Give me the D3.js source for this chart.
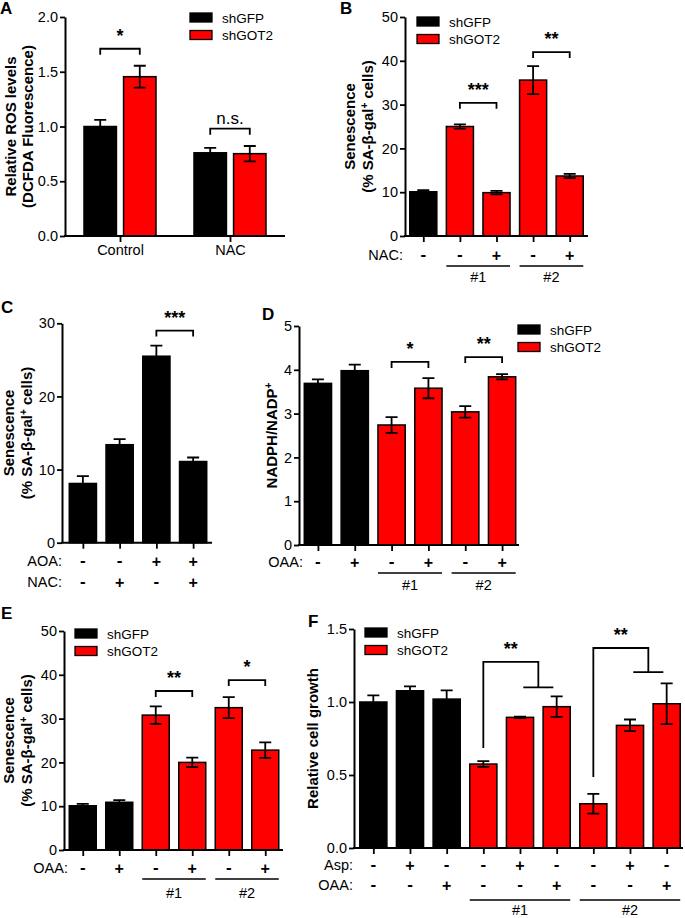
<!DOCTYPE html>
<html><head><meta charset="utf-8">
<script src="https://cdn.jsdelivr.net/npm/d3@7"></script>
<style>body{margin:0;background:#fff}svg{display:block}</style>
</head><body>
<svg id="fig" width="685" height="918"></svg>
<script>
// ---------------- DATA ----------------
const seriesNames = ["shGFP", "shGOT2"];

// Panel A
const aCategories = ["Control", "NAC"];
const aGFP = [1.00, 0.76];
const aGFPErr = [0.06, 0.045];
const aGOT2 = [1.455, 0.752];
const aGOT2Err = [0.10, 0.07];
const aTicks = [0, 0.5, 1.0, 1.5, 2.0];
const aSig = [{cat: "Control", level: 1.71, label: "*"}, {cat: "NAC", level: 0.98, label: "n.s."}];

// Panel B
const bSeries = ["shGFP", "shGOT2", "shGOT2", "shGOT2", "shGOT2"];
const bValues = [10.1, 25.0, 9.9, 35.6, 13.7];
const bErr = [0.35, 0.5, 0.4, 3.2, 0.5];
const bNAC = ["-", "-", "+", "-", "+"];
const bGroups = [{label: "#1", from: 1, to: 2}, {label: "#2", from: 3, to: 4}];
const bTicks = [0, 10, 20, 30, 40, 50];
const bSig = [{from: 1, to: 2, level: 30.4, label: "***"}, {from: 3, to: 4, level: 42.0, label: "**"}];

// Panel C
const cSeries = ["shGFP", "shGFP", "shGFP", "shGFP"];
const cValues = [8.1, 13.4, 25.5, 11.1];
const cErr = [1.0, 0.75, 1.45, 0.55];
const cAOA = ["-", "-", "+", "+"];
const cNAC = ["-", "+", "-", "+"];
const cTicks = [0, 10, 20, 30];
const cSig = [{from: 2, to: 3, level: 29.0, label: "***"}];

// Panel D
const dSeries = ["shGFP", "shGFP", "shGOT2", "shGOT2", "shGOT2", "shGOT2"];
const dValues = [3.69, 3.98, 2.74, 3.58, 3.04, 3.84];
const dErr = [0.09, 0.14, 0.18, 0.23, 0.13, 0.06];
const dOAA = ["-", "+", "-", "+", "-", "+"];
const dGroups = [{label: "#1", from: 2, to: 3}, {label: "#2", from: 4, to: 5}];
const dTicks = [0, 1, 2, 3, 4, 5];
const dSig = [{from: 2, to: 3, level: 4.18, label: "*"}, {from: 4, to: 5, level: 4.29, label: "**"}];

// Panel E
const eSeries = ["shGFP", "shGFP", "shGOT2", "shGOT2", "shGOT2", "shGOT2"];
const eValues = [10.1, 10.9, 30.8, 20.0, 32.5, 22.8];
const eErr = [0.45, 0.5, 2.0, 1.1, 2.4, 1.75];
const eOAA = ["-", "+", "-", "+", "-", "+"];
const eGroups = [{label: "#1", from: 2, to: 3}, {label: "#2", from: 4, to: 5}];
const eTicks = [0, 10, 20, 30, 40, 50];
const eSig = [{from: 2, to: 3, level: 36.3, label: "**"}, {from: 4, to: 5, level: 38.8, label: "*"}];

// Panel F
const fSeries = ["shGFP", "shGFP", "shGFP", "shGOT2", "shGOT2", "shGOT2", "shGOT2", "shGOT2", "shGOT2"];
const fValues = [1.00, 1.077, 1.02, 0.575, 0.895, 0.968, 0.303, 0.84, 0.988];
const fErr = [0.045, 0.03, 0.06, 0.02, 0.005, 0.07, 0.068, 0.04, 0.14];
const fAsp = ["-", "+", "-", "-", "+", "-", "-", "+", "-"];
const fOAA = ["-", "-", "+", "-", "-", "+", "-", "-", "+"];
const fGroups = [{label: "#1", from: 3, to: 5}, {label: "#2", from: 6, to: 8}];
const fTicks = [0, 0.5, 1.0, 1.5];
const fSig = [
  {from: 3, toA: 4, toB: 5, base: 0.685, top: 1.275, drop: 1.10, label: "**"},
  {from: 6, toA: 7, toB: 8, base: 0.486, top: 1.37, drop: 1.205, label: "**"}
];

// ---------------- DRAWING ----------------
const FONT = '"Liberation Sans", Arial, Helvetica, sans-serif';
const RED = "#ff0000";
const colorOf = s => s === "shGFP" ? "#000000" : RED;
const svg = d3.select("#fig").attr("font-family", FONT);

function yAxis(g, y, ticks, fmt, axisX) {
  const ax = g.append("g").attr("transform", `translate(${axisX},0)`)
    .call(d3.axisLeft(y).tickValues(ticks).tickFormat(fmt).tickSize(5).tickPadding(2).tickSizeOuter(0));
  ax.select(".domain").attr("stroke", "#000").attr("stroke-width", 2);
  ax.selectAll(".tick line").attr("stroke", "#000").attr("stroke-width", 1.8);
  ax.selectAll(".tick text").attr("font-size", 14.5).attr("font-family", FONT).attr("fill", "#000");
}

function xAxis(g, x, y0, axisX, axisEnd, showLabels) {
  g.append("line").attr("x1", axisX - 1).attr("x2", axisEnd).attr("y1", y0).attr("y2", y0)
    .attr("stroke", "#000").attr("stroke-width", 2);
  const ax = g.append("g").attr("transform", `translate(0,${y0})`)
    .call(d3.axisBottom(x).tickSize(6).tickPadding(3).tickFormat(showLabels ? (d => d) : ""));
  ax.select(".domain").remove();
  ax.selectAll(".tick line").attr("stroke", "#000").attr("stroke-width", 1.8);
  ax.selectAll(".tick text").attr("font-size", 14.5).attr("font-family", FONT).attr("fill", "#000");
}

function yTitle(g, lines, xs, cy) {
  lines.forEach((segs, i) => {
    const t = g.append("text").attr("transform", `translate(${xs[i]},${cy}) rotate(-90)`)
      .attr("text-anchor", "middle").attr("font-weight", "bold").attr("font-size", 15).attr("fill", "#000");
    let prevSup = false;
    segs.forEach(s => {
      const sp = t.append("tspan").text(s.t);
      if (s.sup) { sp.attr("dy", -5.5).attr("font-size", 10); prevSup = true; }
      else if (prevSup) { sp.attr("dy", 5.5).attr("font-size", 15); prevSup = false; }
    });
  });
}

function letter(txt, x, y) {
  svg.append("text").attr("x", x).attr("y", y).attr("font-weight", "bold").attr("font-size", 17).text(txt);
}

function legend(g, x, y) {
  seriesNames.forEach((s, i) => {
    g.append("rect").attr("x", x).attr("y", y + i * 17.5).attr("width", 22).attr("height", 9)
      .attr("fill", colorOf(s)).attr("stroke", "#000").attr("stroke-width", 1.3);
    g.append("text").attr("x", x + 32).attr("y", y + i * 17.5 + 9.5).attr("font-size", 13.5).text(s);
  });
}

function bracket(g, x1, x2, yPx, label) {
  g.append("path").attr("d", `M${x1},${yPx + 6}V${yPx}H${x2}V${yPx + 6}`)
    .attr("fill", "none").attr("stroke", "#000").attr("stroke-width", 1.8);
  sigLabel(g, (x1 + x2) / 2, yPx, label);
}
function sigLabel(g, x, yPx, label) {
  const isStar = label.indexOf("*") >= 0;
  g.append("text").attr("x", x).attr("y", isStar ? yPx - 7 : yPx - 4.5)
    .attr("text-anchor", "middle").attr("font-size", isStar ? 18 : 17)
    .attr("font-weight", isStar ? "bold" : "normal").text(label);
}

function errorBars(g, xs, vals, errs, y) {
  vals.forEach((v, i) => {
    const cx = xs[i];
    g.append("path").attr("d",
      `M${cx},${y(v - errs[i])}V${y(v + errs[i])}M${cx - 6},${y(v + errs[i])}H${cx + 6}M${cx - 6},${y(v - errs[i])}H${cx + 6}`)
      .attr("fill", "none").attr("stroke", "#000").attr("stroke-width", 1.8);
  });
}

function barPanel(cfg) {
  const g = svg.append("g");
  const y = d3.scaleLinear().domain([0, cfg.yMax]).range([cfg.yBot, cfg.yTop]);
  const x = d3.scalePoint().domain(d3.range(cfg.values.length)).range(cfg.xRange).padding(0.5);
  const bw = x.step() * 0.74;
  g.selectAll("rect.bar").data(cfg.values).join("rect").attr("class", "bar")
    .attr("x", (d, i) => x(i) - bw / 2).attr("y", d => y(d))
    .attr("width", bw).attr("height", d => y(0) - y(d))
    .attr("fill", (d, i) => colorOf(cfg.series[i])).attr("stroke", "#000").attr("stroke-width", 1.5);
  errorBars(g, cfg.values.map((d, i) => x(i)), cfg.values, cfg.errs, y);
  yAxis(g, y, cfg.ticks, cfg.fmt, cfg.axisX);
  xAxis(g, x, cfg.yBot, cfg.axisX, cfg.axisEnd, false);
  yTitle(g, cfg.title, cfg.titleX, (cfg.yTop + cfg.yBot) / 2);
  (cfg.rows || []).forEach(r => {
    g.append("text").attr("x", cfg.rowLabelX).attr("y", r.y).attr("text-anchor", "end")
      .attr("font-size", 14.5).text(r.label);
    r.signs.forEach((s, i) => {
      g.append("text").attr("x", x(i)).attr("y", r.y + (s === "-" ? 0 : 0.5)).attr("text-anchor", "middle")
        .attr("font-size", s === "-" ? 17 : 16).attr("font-weight", "bold").text(s);
    });
  });
  (cfg.groups || []).forEach(gr => {
    const x1 = x(gr.from) - bw / 2, x2 = x(gr.to) + bw / 2;
    g.append("line").attr("x1", x1).attr("x2", x2).attr("y1", cfg.groupLineY).attr("y2", cfg.groupLineY)
      .attr("stroke", "#000").attr("stroke-width", 1.6);
    g.append("text").attr("x", (x1 + x2) / 2).attr("y", cfg.groupLabelY).attr("text-anchor", "middle")
      .attr("font-size", 14.5).text(gr.label);
  });
  (cfg.sig || []).forEach(s => bracket(g, x(s.from), x(s.to), y(s.level), s.label));
  if (cfg.legend) legend(g, cfg.legend[0], cfg.legend[1]);
  return {g, x, y, bw};
}

// ----- Panel A (grouped) -----
(function () {
  const g = svg.append("g");
  const axisX = 65, axisEnd = 285, yTop = 17, yBot = 236;
  const y = d3.scaleLinear().domain([0, 2]).range([yBot, yTop]);
  const x = d3.scalePoint().domain(aCategories).range([axisX, axisEnd]).padding(0.5);
  const inner = d3.scaleBand().domain(seriesNames).range([-36, 36]).paddingInner(0.18);
  const rows = [];
  aCategories.forEach((c, i) => {
    rows.push({c, s: "shGFP", v: aGFP[i], e: aGFPErr[i]});
    rows.push({c, s: "shGOT2", v: aGOT2[i], e: aGOT2Err[i]});
  });
  g.selectAll("rect.bar").data(rows).join("rect").attr("class", "bar")
    .attr("x", d => x(d.c) + inner(d.s)).attr("y", d => y(d.v))
    .attr("width", inner.bandwidth()).attr("height", d => y(0) - y(d.v))
    .attr("fill", d => colorOf(d.s)).attr("stroke", "#000").attr("stroke-width", 1.5);
  errorBars(g, rows.map(d => x(d.c) + inner(d.s) + inner.bandwidth() / 2), rows.map(d => d.v), rows.map(d => d.e), y);
  yAxis(g, y, aTicks, d3.format(".1f"), axisX);
  xAxis(g, x, yBot, axisX, axisEnd, true);
  yTitle(g, [[{t: "Relative ROS levels"}], [{t: "(DCFDA Fluorescence)"}]], [16, 33], (yTop + yBot) / 2);
  aSig.forEach(s => {
    const cx = x(s.cat);
    bracket(g, cx + inner("shGFP") + inner.bandwidth() / 2, cx + inner("shGOT2") + inner.bandwidth() / 2, y(s.level), s.label);
  });
  legend(g, 190, 13);
  letter("A", 0, 14);
})();

// ----- Panel B -----
barPanel({
  values: bValues, errs: bErr, series: bSeries, ticks: bTicks, fmt: d3.format("d"), yMax: 50,
  axisX: 405, axisEnd: 588, yTop: 17, yBot: 236, xRange: [405, 588],
  title: [[{t: "Senescence"}], [{t: "(% SA-β-gal"}, {t: "+", sup: true}, {t: " cells)"}]], titleX: [355, 373],
  rows: [{label: "NAC:", signs: bNAC, y: 260}], rowLabelX: 403,
  groups: bGroups, groupLineY: 266, groupLabelY: 282, sig: bSig, legend: [417, 17]
});
letter("B", 340, 14);

// ----- Panel C -----
barPanel({
  values: cValues, errs: cErr, series: cSeries, ticks: cTicks, fmt: d3.format("d"), yMax: 30,
  axisX: 62, axisEnd: 212, yTop: 323.3, yBot: 542.7, xRange: [64.5, 211.5],
  title: [[{t: "Senescence"}], [{t: "(% SA-β-gal"}, {t: "+", sup: true}, {t: " cells)"}]], titleX: [14, 32],
  rows: [{label: "AOA:", signs: cAOA, y: 566}, {label: "NAC:", signs: cNAC, y: 587}], rowLabelX: 62,
  sig: cSig
});
letter("C", 1, 313);

// ----- Panel D -----
barPanel({
  values: dValues, errs: dErr, series: dSeries, ticks: dTicks, fmt: d3.format("d"), yMax: 5,
  axisX: 299, axisEnd: 519, yTop: 326, yBot: 545, xRange: [299.5, 520.5],
  title: [[{t: "NADPH/NADP"}, {t: "+", sup: true}]], titleX: [277],
  rows: [{label: "OAA:", signs: dOAA, y: 567}], rowLabelX: 303,
  groups: dGroups, groupLineY: 573, groupLabelY: 590, sig: dSig, legend: [518, 325]
});
letter("D", 262, 320);

// ----- Panel E -----
barPanel({
  values: eValues, errs: eErr, series: eSeries, ticks: eTicks, fmt: d3.format("d"), yMax: 50,
  axisX: 64, axisEnd: 283, yTop: 631, yBot: 850, xRange: [64.5, 283.5],
  title: [[{t: "Senescence"}], [{t: "(% SA-β-gal"}, {t: "+", sup: true}, {t: " cells)"}]], titleX: [14, 32],
  rows: [{label: "OAA:", signs: eOAA, y: 873}], rowLabelX: 68,
  groups: eGroups, groupLineY: 879, groupLabelY: 898, sig: eSig, legend: [75, 629]
});
letter("E", 1, 619);

// ----- Panel F -----
const pf = barPanel({
  values: fValues, errs: fErr, series: fSeries, ticks: fTicks, fmt: d3.format(".1f"), yMax: 1.5,
  axisX: 354, axisEnd: 683, yTop: 629, yBot: 848, xRange: [355, 685],
  title: [[{t: "Relative cell growth"}]], titleX: [318],
  rows: [{label: "Asp:", signs: fAsp, y: 870}, {label: "OAA:", signs: fOAA, y: 890}], rowLabelX: 353,
  groups: fGroups, groupLineY: 900, groupLabelY: 915, legend: [365, 628]
});
fSig.forEach(s => {
  const {g, x, y} = pf;
  const mid = (x(s.toA) + x(s.toB)) / 2, hw = x.step() * 0.41;
  g.append("path").attr("d",
    `M${x(s.from)},${y(s.base)}V${y(s.top)}H${mid}V${y(s.drop)}M${mid - hw},${y(s.drop)}H${mid + hw}`)
    .attr("fill", "none").attr("stroke", "#000").attr("stroke-width", 1.8);
  sigLabel(g, (x(s.from) + mid) / 2, y(s.top), s.label);
});
letter("F", 308, 627);
</script>
</body></html>
